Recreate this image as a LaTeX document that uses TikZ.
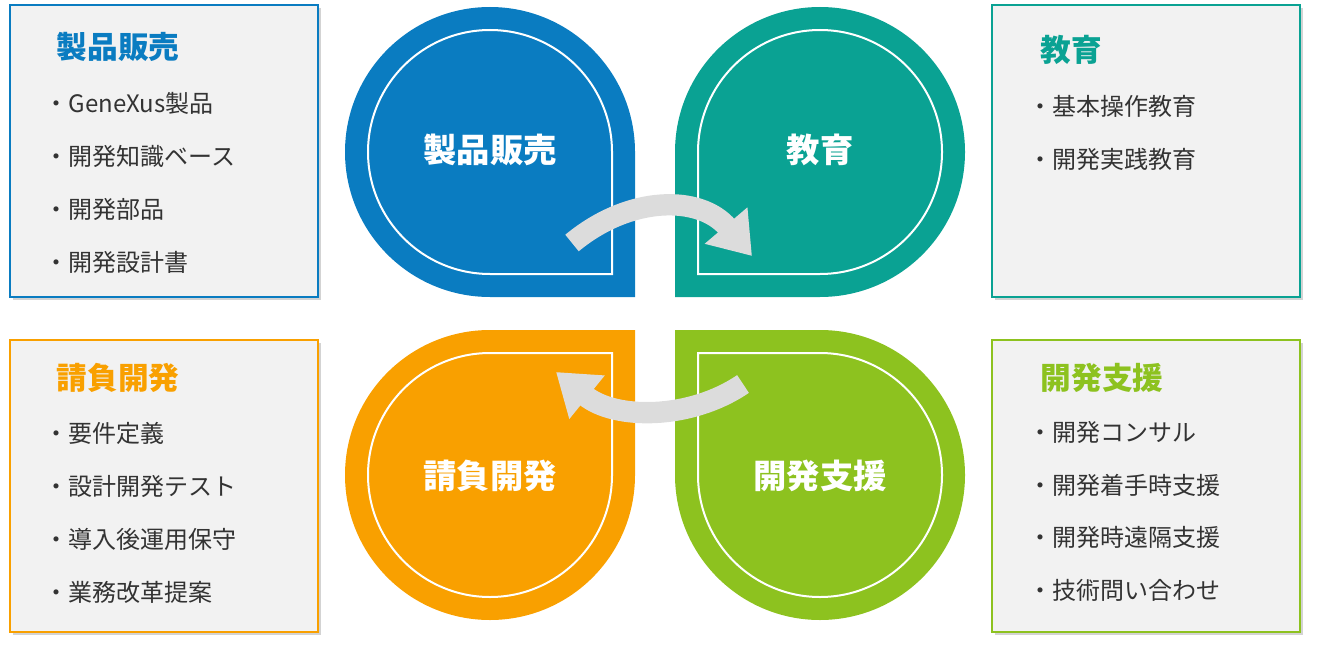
\documentclass[tikz,border=0pt]{standalone}
\usepackage{fontspec}
\setmainfont{Noto Sans CJK JP}
\usetikzlibrary{arrows.meta,shadows}
\definecolor{seihin}{HTML}{0A7CC1}
\definecolor{kyoiku}{HTML}{0AA293}
\definecolor{ukeoi}{HTML}{F9A000}
\definecolor{shien}{HTML}{8DC21F}
\definecolor{boxgray}{HTML}{F2F2F2}
\definecolor{arrowgray}{HTML}{DCDCDC}
\tikzset{
  infobox/.style={fill=boxgray, line width=1.2pt, drop shadow={opacity=0.35,shadow xshift=2pt,shadow yshift=-2pt}},
  boxtitle/.style={anchor=west, font=\bfseries\fontsize{23}{26}\selectfont},
  item/.style={anchor=west, font=\fontsize{18}{21}\selectfont, text=black!80},
  petaltext/.style={text=white, font=\bfseries\fontsize{25}{28}\selectfont},
  turn/.style={arrowgray, line width=16pt, -{Triangle[length=30pt,width=40pt]}}
}
\newcommand\petal[6]{%
  \fill[#1] (#2,#3) ++(#4:145) arc[start angle=#4, delta angle=-270, radius=145] -- ([shift={(#5*145,#6*145)}]#2,#3) -- cycle;
  \draw[white, line width=1.5pt] (#2,#3) ++(#4:122) arc[start angle=#4, delta angle=-270, radius=122] -- ([shift={(#5*122,#6*122)}]#2,#3) -- cycle;
}
\begin{document}
\begin{tikzpicture}[x=0.75pt,y=-0.75pt]
\useasboundingbox (0,0) rectangle (1319,649);
% petals
\petal{seihin}{490}{152}{0}{1}{1}
\petal{kyoiku}{820}{152}{90}{-1}{1}
\petal{ukeoi}{490}{475}{-90}{1}{-1}
\petal{shien}{820}{475}{180}{-1}{-1}
\node[petaltext] (p1) at (490,150) {製品販売};
\node[petaltext] (p2) at (820,150) {教育};
\node[petaltext] (p3) at (490,476) {請負開発};
\node[petaltext] (p4) at (820,476) {開発支援};
% arrows
\coordinate (a1) at (572,243);
\coordinate (a2) at (752,256);
\coordinate (b1) at (743,384);
\coordinate (b2) at (556,372);
\draw[turn] (a1) .. controls (630,195) and (700,195) .. (a2);
\draw[turn] (b1) .. controls (690,420) and (615,420) .. (b2);
% boxes
\draw[infobox, draw=seihin] (10,5) rectangle (318,297);
\draw[infobox, draw=kyoiku] (992,5) rectangle (1300,297);
\draw[infobox, draw=ukeoi] (10,340) rectangle (318,632);
\draw[infobox, draw=shien] (992,340) rectangle (1300,632);
\node[boxtitle, text=seihin] (t1) at (52,47) {製品販売};
\node[boxtitle, text=kyoiku] (t2) at (1036,50) {教育};
\node[boxtitle, text=ukeoi] (t3) at (52,378) {請負開発};
\node[boxtitle, text=shien] (t4) at (1036,378) {開発支援};
\foreach \txt [count=\i] in {GeneXus製品,開発知識ベース,開発部品,開発設計書}
  \node[item] (s\i) at (40,50+53*\i) {・\txt};
\foreach \txt [count=\i] in {基本操作教育,開発実践教育}
  \node[item] (k\i) at (1024,53+53*\i) {・\txt};
\foreach \txt [count=\i] in {要件定義,設計開発テスト,導入後運用保守,業務改革提案}
  \node[item] (u\i) at (40,380+53*\i) {・\txt};
\foreach \txt [count=\i] in {開発コンサル,開発着手時支援,開発時遠隔支援,技術問い合わせ}
  \node[item] (h\i) at (1024,380+52.5*\i) {・\txt};
\end{tikzpicture}
\end{document}
